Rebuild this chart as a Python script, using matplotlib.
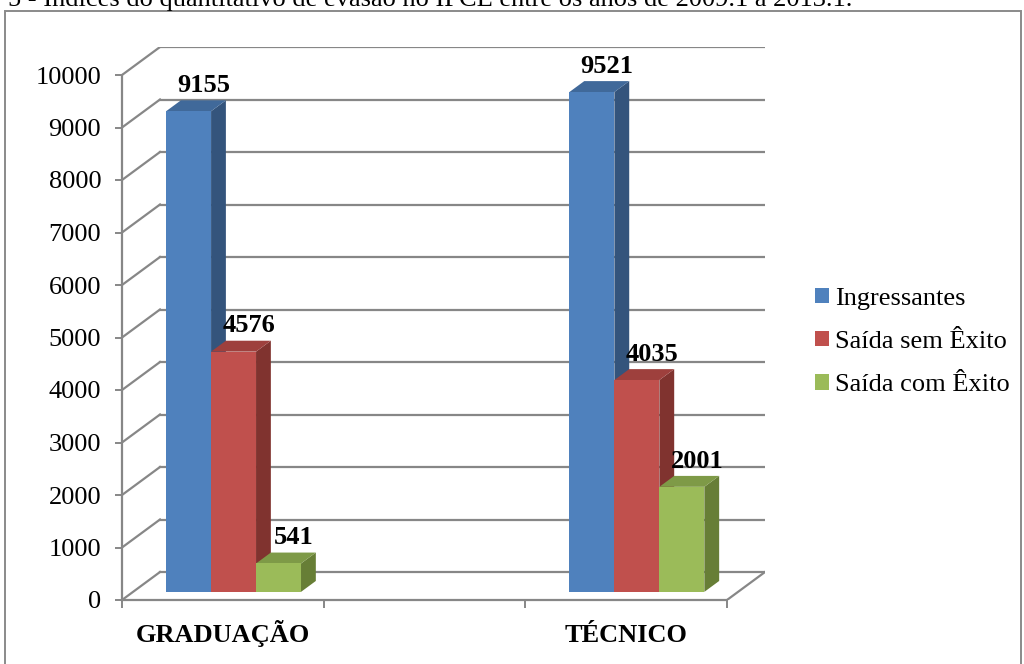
import numpy as np
import matplotlib
matplotlib.use("Agg")
import matplotlib.pyplot as plt
from matplotlib.patches import Polygon, Rectangle, Patch
from matplotlib.lines import Line2D

plt.rcParams['font.family'] = ['Liberation Serif', 'DejaVu Serif']

# data (middle category is empty in the source sheet)
categories = ['GRADUAÇÃO', '', 'TÉCNICO']
series_names = ['Ingressantes', 'Saída sem Êxito', 'Saída com Êxito']
ingressantes = [9155, None, 9521]
saida_sem_exito = [4576, None, 4035]
saida_com_exito = [541, None, 2001]
series_values = [ingressantes, saida_sem_exito, saida_com_exito]

# front / top / side shades for each series
front_colors = ['#4F81BD', '#C0504D', '#9BBB59']
top_colors = ['#40699A', '#9E403D', '#7E9A47']
side_colors = ['#34547C', '#80332F', '#677E36']

title = '5 - Índices do quantitativo de evasão no IFCE entre os anos de 2009.1 a 2013.1.'

ymax = 10000
# oblique depth of the 3D box, in data units
DX = 38 / 201.67
DY = 28 / 0.0525
# depth range occupied by the bars (0 = front, 1 = back wall)
d0, d1 = 0.29, 0.68
bar_w = 0.223
bar_start = 0.164

W, H = 1024, 664
fig = plt.figure(figsize=(W / 100, H / 100), dpi=100)
ax = fig.add_axes([122 / W, (H - 600) / H, (765 - 122) / W, (600 - 47) / H])
ax.set_xlim(0, len(categories) + DX)
ax.set_ylim(0, ymax + DY)

grid_color = '#878787'
# back wall gridlines and left wall diagonals
for v in range(0, ymax + 1, 1000):
    ax.add_line(Line2D([DX, len(categories) + DX], [v + DY, v + DY], color=grid_color, lw=1.6, zorder=1))
    ax.add_line(Line2D([0, DX], [v, v + DY], color=grid_color, lw=1.6, zorder=1))
# right edge of the floor
ax.add_line(Line2D([len(categories), len(categories) + DX], [0, DY], color=grid_color, lw=1.6, zorder=1))


def pt(x, v, d):
    return (x + d * DX, v + d * DY)


for i, cat in enumerate(categories):
    for j, vals in enumerate(series_values):
        v = vals[i]
        if v is None:
            continue
        x0 = i + bar_start + j * bar_w
        x1 = x0 + bar_w
        side = [pt(x1, 0, d0), pt(x1, v, d0), pt(x1, v, d1), pt(x1, 0, d1)]
        top = [pt(x0, v, d0), pt(x1, v, d0), pt(x1, v, d1), pt(x0, v, d1)]
        front = [pt(x0, 0, d0), pt(x1, 0, d0), pt(x1, v, d0), pt(x0, v, d0)]
        z = 3 + i * 3 + j
        ax.add_patch(Polygon(side, closed=True, fc=side_colors[j], ec='none', zorder=z))
        ax.add_patch(Polygon(top, closed=True, fc=top_colors[j], ec='none', zorder=z))
        ax.add_patch(Polygon(front, closed=True, fc=front_colors[j], ec='none', zorder=z))
        # value label sits just above the back edge of the top face
        lx = pt((x0 + x1) / 2, v, d0 + 0.4)[0]
        ly = pt((x0 + x1) / 2, v, d1)[1]
        ax.annotate(str(v), (lx, ly), xytext=(0, 6), textcoords='offset points',
                    ha='center', va='baseline', fontsize=19, fontweight='bold', zorder=20)

# axes
for s in ['top', 'right']:
    ax.spines[s].set_visible(False)
ax.spines['left'].set_bounds(0, ymax)
ax.spines['bottom'].set_bounds(0, len(categories))
for s in ['left', 'bottom']:
    ax.spines[s].set_color(grid_color)
    ax.spines[s].set_linewidth(1.6)
    ax.spines[s].set_zorder(2)

ax.set_yticks(range(0, ymax + 1, 1000))
ax.tick_params(axis='y', length=5, width=1.4, color=grid_color, pad=10, labelsize=19)
ax.set_xticks(range(len(categories) + 1))
ax.set_xticklabels([])
ax.tick_params(axis='x', which='major', length=6, width=1.4, color=grid_color)

# category names, all on one baseline
for i, cat in enumerate(categories):
    if cat:
        ax.annotate(cat, (i + 0.5, 0), xytext=(0, -30), textcoords='offset points',
                    ha='center', va='baseline', fontsize=19, fontweight='bold',
                    annotation_clip=False)

handles = [Patch(fc=c, ec='none') for c in front_colors]
fig.legend(handles, series_names, loc='center left', bbox_to_anchor=(791 / W, 1 - 342 / H),
           frameon=False, fontsize=19, handlelength=0.53, handleheight=0.53,
           handletextpad=0.25, labelspacing=0.8)

# outer frame and the caption line above it
fig.add_artist(Rectangle((5 / W, -0.1), (1021 - 5) / W, 1.1 - 11 / H, transform=fig.transFigure,
                         fill=False, ec='#8A8A8A', lw=1.4))
fig.text(8 / W, 1 - 6 / H, title, ha='left', va='baseline', fontsize=19)

fig.savefig('out.png', dpi=100)
